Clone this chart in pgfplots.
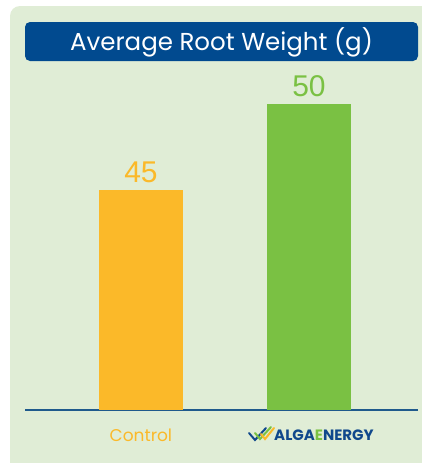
\documentclass[border=0pt]{standalone}
\usepackage{fontspec}
\setmainfont{Poppins}
\newfontfamily\arialf{Liberation Sans}
\usepackage{pgfplots}
\pgfplotsset{compat=1.18}
\definecolor{bgpanel}{RGB}{224,237,214}
\definecolor{titlebox}{RGB}{1,74,143}
\definecolor{ctrlor}{RGB}{251,185,41}
\definecolor{algagr}{RGB}{122,193,67}
\definecolor{baseln}{RGB}{31,90,140}
\definecolor{logoblue}{RGB}{16,72,140}
\begin{document}
\begin{tikzpicture}[x=1pt,y=1pt]
\useasboundingbox (0,0) rectangle (421,-463);
\fill[white] (0,0) rectangle (421,-463);
\fill[bgpanel,rounded corners=10pt] (10,-6) rectangle (440,-480);
\begin{axis}[
  at={(25pt,-410pt)}, anchor=south west,
  scale only axis, width=393pt, height=388pt,
  xmin=-0.690, xmax=1.649, ymin=32.2, ymax=54.76,
  enlargelimits=false,
  axis x line=bottom, axis y line=none,
  x axis line style={-, color=baseln, line width=1.4pt},
  xtick={0,1}, xticklabels={Control,{}},
  major tick length=0pt,
  xticklabel style={anchor=center, yshift=-25pt, text=ctrlor, font=\fontsize{17}{19}\selectfont},
  /pgf/number format/assume math mode=true,
  ybar, bar width=84pt, bar shift=0pt,
  nodes near coords,
  nodes near coords style={font=\arialf\fontsize{30}{33}\selectfont, anchor=south, yshift=4pt},
]
\addplot[fill=ctrlor, draw=none, every node near coord/.append style={text=ctrlor}] coordinates {(0,45)};
\addplot[fill=algagr, draw=none, every node near coord/.append style={text=algagr}] coordinates {(1,50)};
\end{axis}
\fill[titlebox,rounded corners=5pt] (25,-22) rectangle (418,-61);
\node[text=white, font=\fontsize{24.5}{27}\selectfont] at (221.5,-42) {Average Root Weight (g)};
% logo
\begin{scope}[line cap=round, line width=2pt]
\draw[logoblue] (249,-433) -- (255,-440) -- (266,-428);
\draw[algagr] (255,-433) -- (260,-439) -- (271,-427);
\draw[ctrlor] (261,-434) -- (265,-439) -- (274,-428);
\end{scope}
\node[anchor=west, inner sep=0pt, text=logoblue, font=\bfseries\fontsize{15}{17}\selectfont] at (274,-435) {ALGA\textcolor{algagr}{E}NERGY};
\end{tikzpicture}
\end{document}
